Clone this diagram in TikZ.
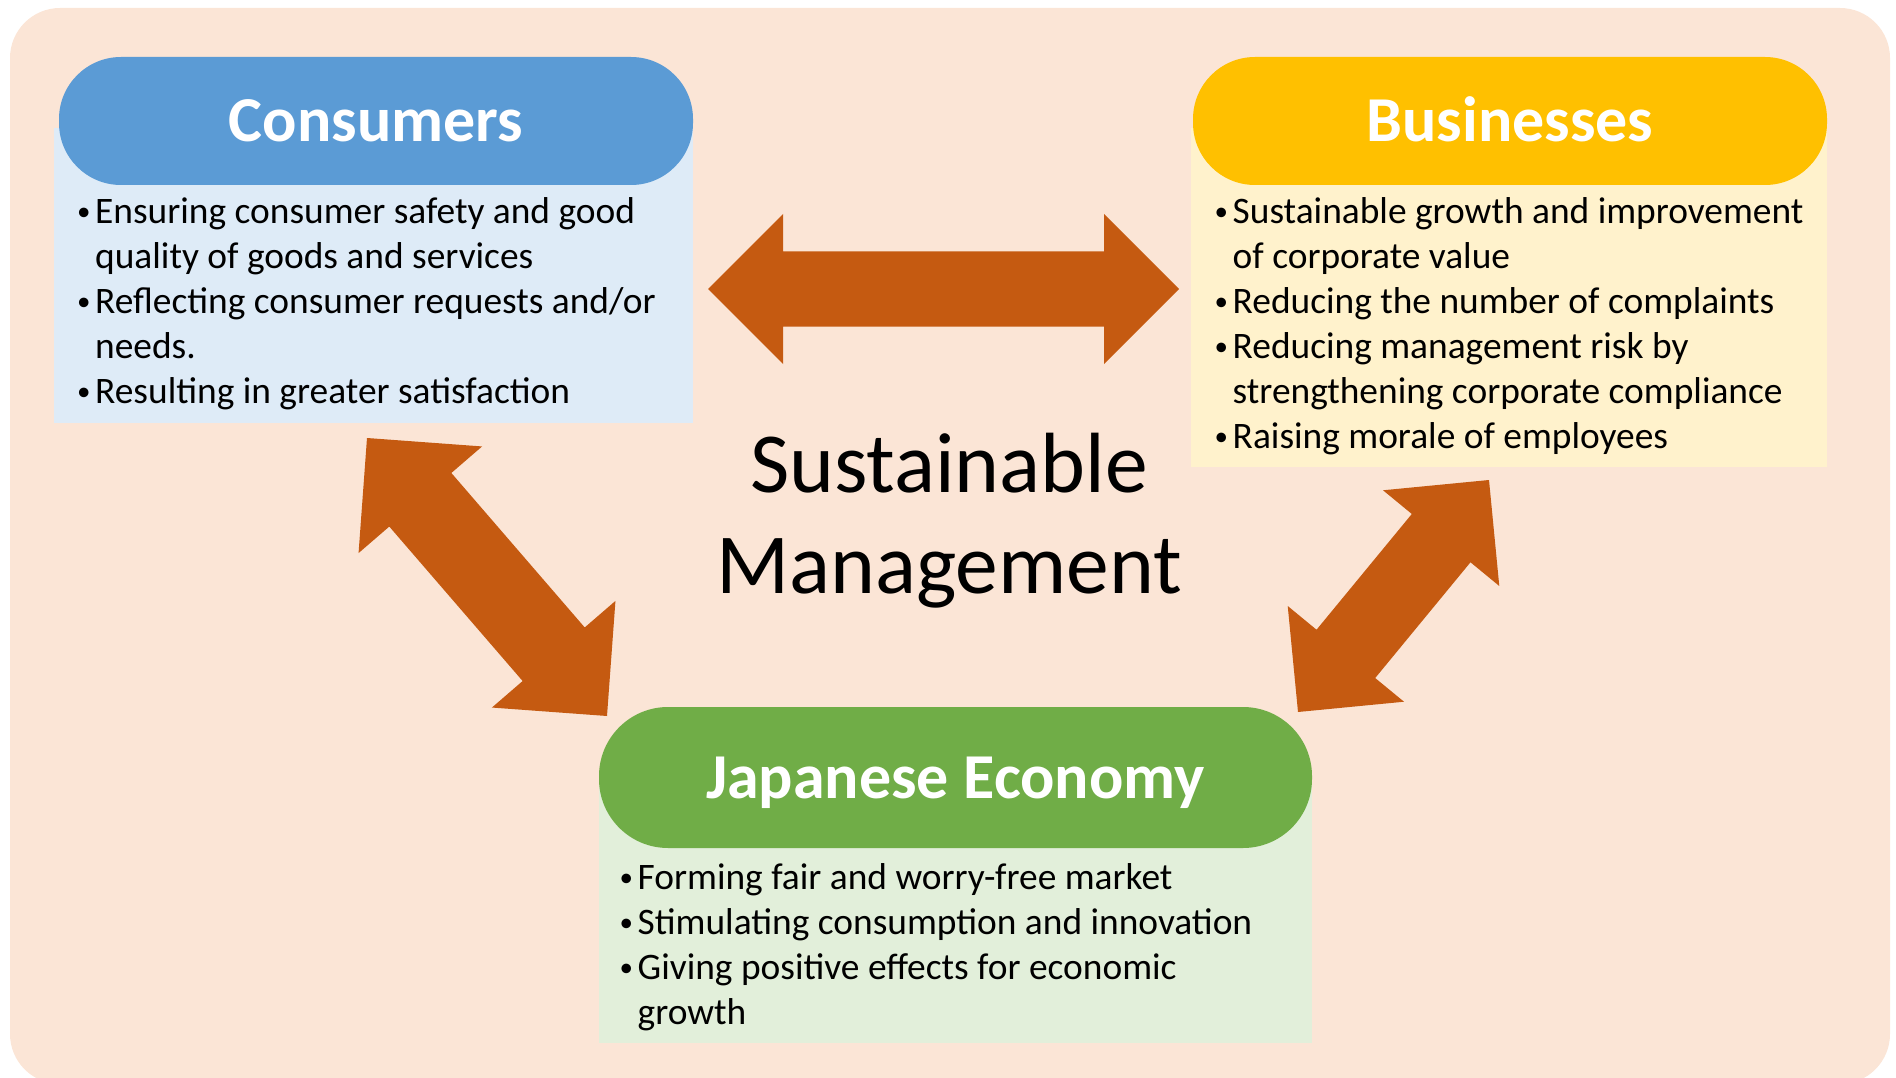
\documentclass[tikz,border=0pt]{standalone}
\usepackage{fontspec}
\setmainfont{Carlito}
\usetikzlibrary{calc}
\definecolor{bgc}{HTML}{FBE5D6}
\definecolor{bluepill}{HTML}{5B9BD5}
\definecolor{bluelight}{HTML}{DEEBF7}
\definecolor{yellowpill}{HTML}{FFC000}
\definecolor{yellowlight}{HTML}{FFF2CC}
\definecolor{greenpill}{HTML}{70AD47}
\definecolor{greenlight}{HTML}{E2EFDA}
\definecolor{arrowc}{HTML}{C55A11}
\tikzset{
  panel/.style={inner sep=0pt, outer sep=0pt, draw=none},
  pillshape/.style={inner sep=0pt, outer sep=0pt, draw=none, rounded corners=62pt},
  titletext/.style={inner sep=0pt, anchor=base, text=white, font=\bfseries\fontsize{64}{77}\selectfont},
  itemtext/.style={inner sep=0pt, anchor=base west, font=\fontsize{37.4}{45}\selectfont},
}
\newcommand\dblarrow[5]{%
 \fill[arrowc] (#1) -- ($(#1)!#3!(#2)!#4!90:(#2)$) -- ($(#1)!#3!(#2)!#5!90:(#2)$)
  -- ($(#2)!#3!(#1)!#5!-90:(#1)$) -- ($(#2)!#3!(#1)!#4!-90:(#1)$) -- (#2)
  -- ($(#2)!#3!(#1)!#4!90:(#1)$) -- ($(#2)!#3!(#1)!#5!90:(#1)$)
  -- ($(#1)!#3!(#2)!#5!-90:(#2)$) -- ($(#1)!#3!(#2)!#4!-90:(#2)$) -- cycle;}
\newcommand\bul{\hspace{1pt}\raisebox{3pt}{\fontsize{27}{27}\selectfont\textbullet}}
\begin{document}
\begin{tikzpicture}[x=1pt,y=-1pt]
\useasboundingbox (0,0) rectangle (1896,1078);
\clip (0,0) rectangle (1896,1078);
\fill[bgc, rounded corners=50pt] (10,8) rectangle (1890,1084);

% Consumers
\node[panel, fill=bluelight, minimum width=639pt, minimum height=295pt] (cbox) at (373.5,275.5) {};
\node[pillshape, fill=bluepill, minimum width=634pt, minimum height=128pt] (cpill) at (376,121) {};
\node[titletext] (ctitle) at (376,142) {Consumers};
\node[itemtext] (citems) at (76,224) {\begin{tabular}[t]{@{}p{19pt}@{}l@{}}
\bul & Ensuring consumer safety and good\\
 & quality of goods and services\\
\bul & Reflecting consumer requests and/or\\
 & needs.\\
\bul & Resulting in greater satisfaction
\end{tabular}};

% Businesses
\node[panel, fill=yellowlight, minimum width=636pt, minimum height=339pt] (bbox) at (1509,297.5) {};
\node[pillshape, fill=yellowpill, minimum width=634pt, minimum height=128pt] (bpill) at (1510,121) {};
\node[titletext] (btitle) at (1510,142) {Businesses};
\node[itemtext] (bitems) at (1213.5,224) {\begin{tabular}[t]{@{}p{19pt}@{}l@{}}
\bul & Sustainable growth and improvement\\
 & of corporate value\\
\bul & Reducing the number of complaints\\
\bul & Reducing management risk by\\
 & strengthening corporate compliance\\
\bul & Raising morale of employees
\end{tabular}};

% Japanese Economy
\node[panel, fill=greenlight, minimum width=713pt, minimum height=263pt] (jbox) at (955.5,911.5) {};
\node[pillshape, fill=greenpill, minimum width=713pt, minimum height=141pt, rounded corners=69pt] (jpill) at (955.5,777.5) {};
\node[titletext] (jtitle) at (955.5,798) {Japanese Economy};
\node[itemtext] (jitems) at (618.5,889) {\begin{tabular}[t]{@{}p{19pt}@{}l@{}}
\bul & Forming fair and worry-free market\\
\bul & Stimulating consumption and innovation\\
\bul & Giving positive effects for economic\\
 & growth
\end{tabular}};

% Center text
\node[inner sep=0pt, anchor=base, font=\fontsize{85.5}{101}\selectfont] (center) at (949,492)
  {\begin{tabular}[t]{@{}c@{}}Sustainable\\Management\end{tabular}};

% Arrows
\coordinate (h1) at (708,289);
\coordinate (h2) at (1179,289);
\coordinate (l1) at (367,438);
\coordinate (l2) at (607,716);
\coordinate (r1) at (1298,712);
\coordinate (r2) at (1489,480);
\dblarrow{h1}{h2}{75pt}{75pt}{37.5pt}
\dblarrow{l1}{l2}{81.6pt}{81.6pt}{41pt}
\dblarrow{r1}{r2}{75.3pt}{75.3pt}{38pt}
\end{tikzpicture}
\end{document}
